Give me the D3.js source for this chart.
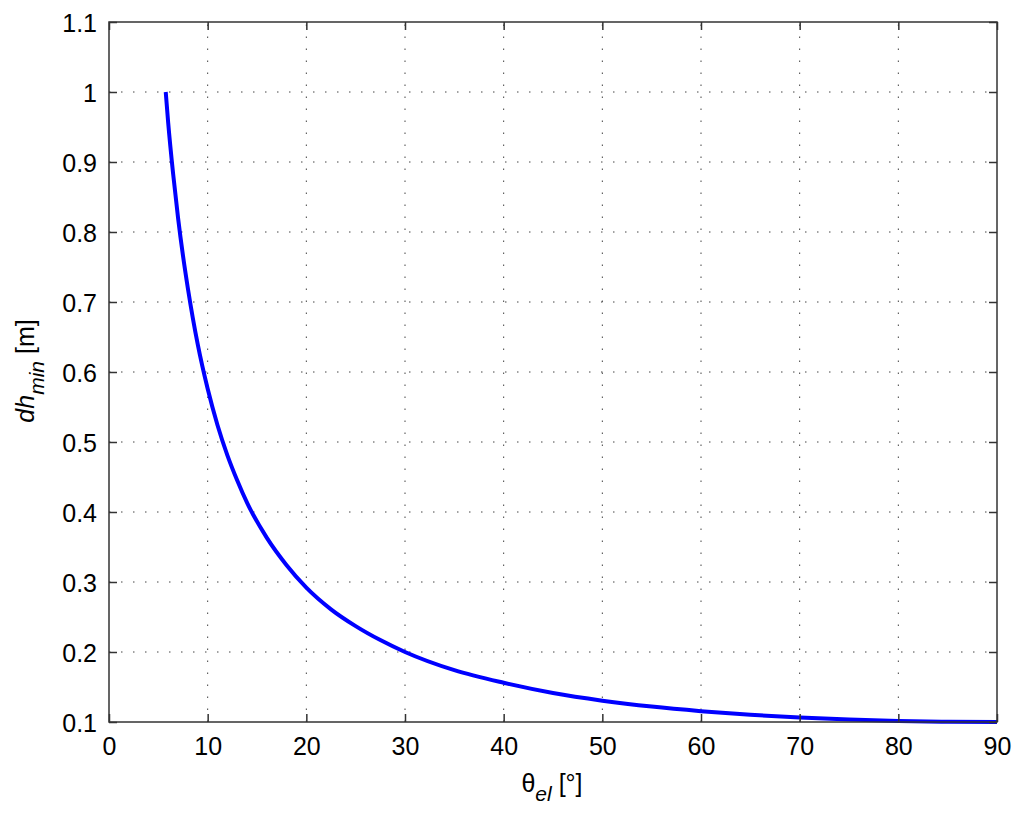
<!DOCTYPE html>
<html>
<head>
<meta charset="utf-8">
<script src="https://cdn.jsdelivr.net/npm/d3@7"></script>
<style>
  body { margin: 0; background: #fff; }
  text { font-family: "Liberation Sans", Arial, sans-serif; }
</style>
</head>
<body>
<div id="chart"></div>
<script>
// values
const elevation = [5.75, 6, 6.5, 7, 7.5, 8, 9, 10, 11, 12, 13, 14, 16, 18, 20, 22.5, 25, 27.5, 30, 35, 40, 45, 50, 55, 60, 65, 70, 75, 80, 85, 90];
const dhMin = [1.0, 0.956, 0.883, 0.82, 0.766, 0.719, 0.639, 0.576, 0.524, 0.481, 0.445, 0.413, 0.363, 0.324, 0.292, 0.261, 0.237, 0.217, 0.2, 0.174, 0.156, 0.1414, 0.1305, 0.122, 0.1155, 0.1103, 0.1064, 0.1035, 0.1015, 0.1004, 0.1];
const xTicks = [0, 10, 20, 30, 40, 50, 60, 70, 80, 90];
const yTicks = [0.1, 0.2, 0.3, 0.4, 0.5, 0.6, 0.7, 0.8, 0.9, 1, 1.1];

const width = 1024, height = 815;
const mLeft = 109, mRight = 997, mTop = 22, mBottom = 722;
const fontSize = 25, subSize = 21;

const svg = d3.select("#chart").append("svg")
    .attr("width", width)
    .attr("height", height);

const x = d3.scaleLinear().domain([0, 90]).range([mLeft, mRight]);
const y = d3.scaleLinear().domain([0.1, 1.1]).range([mBottom, mTop]);

// grid (dotted)
const grid = svg.append("g")
    .attr("stroke", "#444")
    .attr("stroke-width", 1)
    .attr("stroke-dasharray", "1.5,10.5");
grid.selectAll("line.gx").data(xTicks.slice(1, -1)).enter().append("line")
    .attr("x1", d => x(d)).attr("x2", d => x(d))
    .attr("y1", mBottom).attr("y2", mTop);
grid.selectAll("line.gy").data(yTicks.slice(1, -1)).enter().append("line")
    .attr("y1", d => y(d)).attr("y2", d => y(d))
    .attr("x1", mLeft).attr("x2", mRight);

// curve
const linea = d3.line()
    .x((d, i) => x(elevation[i]))
    .y(d => y(d))
    .curve(d3.curveMonotoneX);
svg.append("path")
    .datum(dhMin)
    .attr("fill", "none")
    .attr("stroke", "#0000ff")
    .attr("stroke-width", 4)
    .attr("d", linea);

// box
svg.append("rect")
    .attr("x", mLeft).attr("y", mTop)
    .attr("width", mRight - mLeft).attr("height", mBottom - mTop)
    .attr("fill", "none")
    .attr("stroke", "#333")
    .attr("stroke-width", 1.5);

// axes, ticks inward
const ejeX = svg.append("g")
    .attr("transform", `translate(0,${mBottom})`)
    .call(d3.axisBottom(x).tickValues(xTicks).tickSizeInner(-8).tickSizeOuter(0).tickPadding(15));
const ejeXTop = svg.append("g")
    .attr("transform", `translate(0,${mTop})`)
    .call(d3.axisTop(x).tickValues(xTicks).tickSizeInner(-8).tickSizeOuter(0).tickFormat(""));
const ejeY = svg.append("g")
    .attr("transform", `translate(${mLeft},0)`)
    .call(d3.axisLeft(y).tickValues(yTicks).tickSizeInner(-8).tickSizeOuter(0).tickPadding(12).tickFormat(d3.format("~g")));
const ejeYRight = svg.append("g")
    .attr("transform", `translate(${mRight},0)`)
    .call(d3.axisRight(y).tickValues(yTicks).tickSizeInner(-8).tickSizeOuter(0).tickFormat(""));

[ejeX, ejeXTop, ejeY, ejeYRight].forEach(g => {
    g.select(".domain").remove();
    g.attr("font-size", fontSize);
    g.selectAll(".tick line").attr("stroke", "#333").attr("stroke-width", 1.5);
    g.selectAll("text")
        .attr("font-size", fontSize)
        .attr("fill", "#000")
        .style("font-family", "'Liberation Sans', Arial, sans-serif");
});
ejeY.selectAll("text").attr("dy", "0.36em");

// x label
const xl = svg.append("text")
    .attr("x", 552).attr("y", 792)
    .attr("text-anchor", "middle")
    .attr("font-size", fontSize);
xl.append("tspan").text("θ");
xl.append("tspan").attr("font-style", "italic").attr("font-size", subSize).attr("dy", 9).text("el");
xl.append("tspan").attr("dy", -9).text(" [°]");

// y label
const yl = svg.append("text")
    .attr("transform", "translate(34,371) rotate(-90)")
    .attr("text-anchor", "middle")
    .attr("font-size", fontSize);
yl.append("tspan").attr("font-style", "italic").text("dh");
yl.append("tspan").attr("font-style", "italic").attr("font-size", subSize).attr("dy", 10).text("min");
yl.append("tspan").attr("dy", -10).text(" [m]");
</script>
</body>
</html>
